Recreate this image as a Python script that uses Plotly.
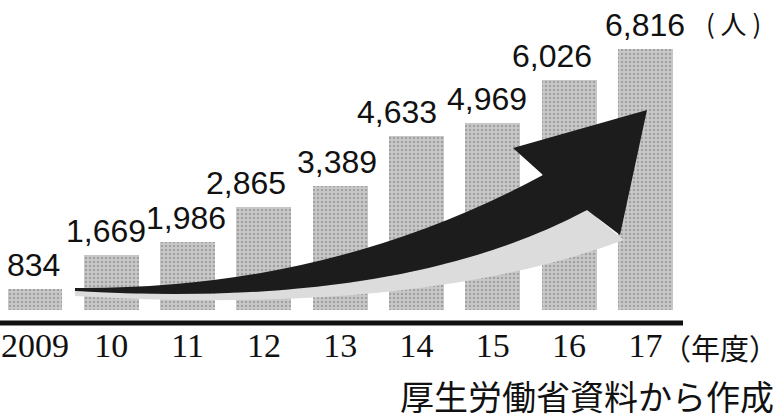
import plotly.graph_objects as go

# ---- data ----
years = ["2009", "10", "11", "12", "13", "14", "15", "16", "17"]
counts = [834, 1669, 1986, 2865, 3389, 4633, 4969, 6026, 6816]
count_labels = ["834", "1,669", "1,986", "2,865", "3,389", "4,633", "4,969", "6,026", "6,816"]
label_dx = [-2, -5, -2, -18, -3, -20, -6, -17, 0]

W, H = 781, 419
AXIS_PX = 322  # pixel row of the baseline

def P(px, py):
    """pixel -> paper coords (plot area spans x 0..W, y 0..AXIS_PX)"""
    return px / W, (AXIS_PX - py) / AXIS_PX

def path(segments):
    s = []
    for cmd, pts in segments:
        s.append(cmd + " " + " ".join(f"{P(x, y)[0]:.5f},{P(x, y)[1]:.5f}" for x, y in pts))
    return " ".join(s) + " Z"

xs = list(range(len(years)))

fig = go.Figure()
fig.add_trace(go.Bar(
    x=xs, y=counts, width=0.72,
    marker=dict(color="#b4b4b4", line=dict(width=0),
                pattern=dict(shape=".", fgcolor="#7a7a7a", bgcolor="#c8c8c8", size=4, solidity=0.3)),
    hoverinfo="skip",
))

val_font = dict(family="Liberation Sans, Arial", size=32, color="#111")
ann = []
for i, (v, t) in enumerate(zip(counts, count_labels)):
    ann.append(dict(x=i, y=v, xref="x", yref="y", text=t, showarrow=False,
                    yanchor="bottom", xanchor="center", xshift=label_dx[i], yshift=4,
                    font=val_font))
ann.append(dict(x=P(704, 0)[0], y=P(0, 22)[1], xref="paper", yref="paper", text="( 人 )",
                showarrow=False, xanchor="left", yanchor="middle",
                font=dict(family="Noto Sans CJK JP", size=26, color="#111")))
ann.append(dict(x=P(780, 0)[0], y=P(0, 347)[1], xref="paper", yref="paper", text="（年度）",
                showarrow=False, xanchor="right", yanchor="middle",
                font=dict(family="Noto Sans CJK JP", size=29, color="#111")))
ann.append(dict(x=P(776, 0)[0], y=P(0, 395)[1], xref="paper", yref="paper", text="厚生労働省資料から作成",
                showarrow=False, xanchor="right", yanchor="middle",
                font=dict(family="Noto Sans CJK JP", size=34, color="#111")))

shapes = []
# fade the lowest part of the bars to white
shapes.append(dict(type="rect", xref="paper", yref="paper",
                   x0=0, x1=P(700, 0)[0], y0=0, y1=P(0, 310)[1],
                   fillcolor="white", line=dict(width=0), layer="above"))
# soft shadow under the arrow
shadow = path([("M", [(75, 291)]), ("Q", [(400, 310), (587, 210)]),
               ("L", [(624, 240)]), ("Q", [(420, 316), (75, 296)])])
shapes.append(dict(type="path", xref="paper", yref="paper", path=shadow,
                   fillcolor="#dcdcdc", line=dict(width=0), layer="above"))
# big rising arrow
arrow = path([("M", [(75, 288)]), ("Q", [(330, 290), (543, 175)]),
              ("L", [(513, 148)]), ("L", [(647, 110)]), ("L", [(620, 235)]), ("L", [(587, 210)]),
              ("Q", [(400, 310), (75, 291)])])
shapes.append(dict(type="path", xref="paper", yref="paper", path=arrow,
                   fillcolor="#1c1c1c", line=dict(width=0), layer="above"))
# baseline
shapes.append(dict(type="line", xref="paper", yref="paper",
                   x0=0, x1=P(683, 0)[0], y0=P(0, 323)[1], y1=P(0, 323)[1],
                   line=dict(color="#111", width=5), layer="above"))

x0 = -35 / 76.3
fig.update_layout(
    width=W, height=H,
    margin=dict(l=0, r=0, t=0, b=H - AXIS_PX, pad=0),
    paper_bgcolor="white", plot_bgcolor="white",
    showlegend=False,
    xaxis=dict(range=[x0, x0 + W / 76.3], tickvals=xs, ticktext=years, showgrid=False,
               zeroline=False, showline=False, ticks="", ticklabeloverflow="allow",
               tickfont=dict(family="Liberation Serif", size=34, color="#111")),
    yaxis=dict(range=[0, AXIS_PX * 24.94], visible=False, showgrid=False, zeroline=False),
    annotations=ann, shapes=shapes,
    bargap=0,
)

fig.write_html("out.html")
